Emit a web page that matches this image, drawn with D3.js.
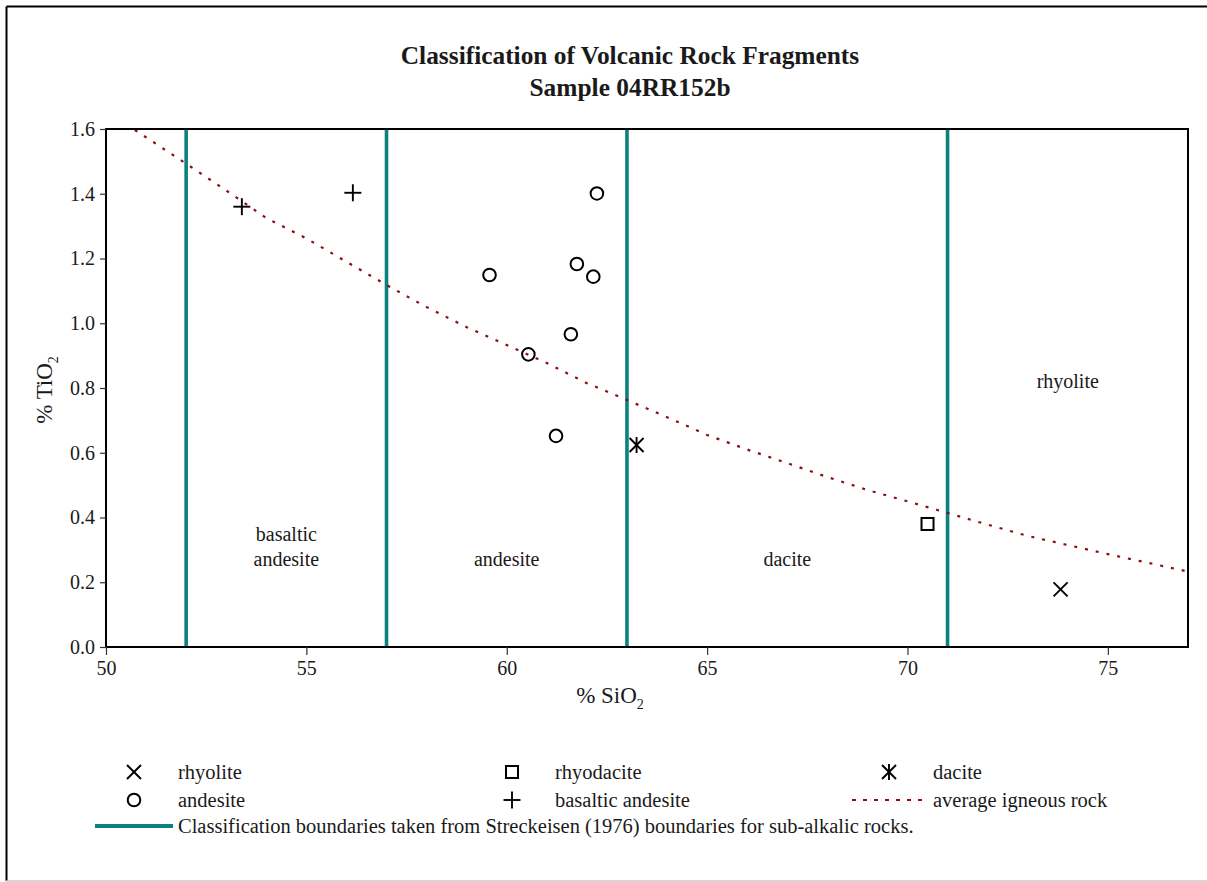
<!DOCTYPE html>
<html>
<head>
<meta charset="utf-8">
<script src="https://cdn.jsdelivr.net/npm/d3@7"></script>
<style>
  body { margin: 0; background: #fff; }
  svg { display: block; }
  svg text { font-family: 'Liberation Serif', 'Times New Roman', serif; }
</style>
</head>
<body>
<svg width="1207" height="882"></svg>
<script>
// sample points, % SiO2 and % TiO2
const rhyoliteSiO2 = [73.82];
const rhyoliteTiO2 = [0.178];
const rhyodaciteSiO2 = [70.50];
const rhyodaciteTiO2 = [0.380];
const daciteSiO2 = [63.24];
const daciteTiO2 = [0.624];
const andesiteSiO2 = [62.25, 59.57, 61.75, 62.16, 61.60, 60.54, 61.23];
const andesiteTiO2 = [1.401, 1.149, 1.183, 1.144, 0.966, 0.904, 0.652];
const basAndesiteSiO2 = [53.39, 56.16];
const basAndesiteTiO2 = [1.360, 1.403];

// average igneous rock curve
const avgSiO2 = [50.72, 52, 53, 54, 55, 56, 57, 58, 59, 60, 61, 62, 63, 64, 65, 66, 67, 68, 69, 70, 71, 72, 73, 74, 75, 76, 77];
const avgTiO2 = [1.597, 1.493, 1.41, 1.325, 1.262, 1.19, 1.118, 1.05, 0.988, 0.933, 0.877, 0.815, 0.763, 0.71, 0.655, 0.61, 0.568, 0.525, 0.485, 0.45, 0.414, 0.378, 0.343, 0.315, 0.287, 0.26, 0.233];

// Streckeisen boundaries and field names
const boundaries = [52, 57, 63, 71];
const fieldNames = [['basaltic', 'andesite'], ['andesite'], ['dacite'], ['rhyolite']];
const fieldLabelTiO2 = [0.25, 0.25, 0.25, 0.80];

const xTicks = [50, 55, 60, 65, 70, 75];
const yTicks = [0, 0.2, 0.4, 0.6, 0.8, 1.0, 1.2, 1.4, 1.6];

const teal = '#0a8282';
const red = '#8b1010';
const ink = '#1a1a1a';

const svg = d3.select('svg');

// outer frame
svg.append('line').attr('x1', 6.5).attr('y1', 6.5).attr('x2', 1207).attr('y2', 6.5)
  .attr('stroke', '#000').attr('stroke-width', 2);
svg.append('line').attr('x1', 6.5).attr('y1', 6.5).attr('x2', 6.5).attr('y2', 881)
  .attr('stroke', '#000').attr('stroke-width', 2);
svg.append('line').attr('x1', 6).attr('y1', 881).attr('x2', 1207).attr('y2', 881)
  .attr('stroke', '#c8c8c8').attr('stroke-width', 1.5);

// title
svg.append('text').attr('x', 630).attr('y', 64).attr('text-anchor', 'middle')
  .attr('font-size', 25.4).attr('font-weight', 'bold').attr('fill', ink)
  .text('Classification of Volcanic Rock Fragments');
svg.append('text').attr('x', 630).attr('y', 96).attr('text-anchor', 'middle')
  .attr('font-size', 25.4).attr('font-weight', 'bold').attr('fill', ink)
  .text('Sample 04RR152b');

const x = d3.scaleLinear().domain([50, 77]).range([106, 1188]);
const y = d3.scaleLinear().domain([0, 1.6]).range([647, 129]);

const plot = svg.append('g');

// boundaries
plot.selectAll('.bound').data(boundaries).enter().append('line')
  .attr('class', 'bound')
  .attr('x1', d => x(d)).attr('x2', d => x(d))
  .attr('y1', y(1.6)).attr('y2', y(0))
  .attr('stroke', teal).attr('stroke-width', 3.6);

// field labels
const fieldMid = boundaries.map((b, i) => ((i < boundaries.length - 1 ? boundaries[i + 1] : 77) + b) / 2);
fieldNames.forEach(function (lines, i) {
  lines.forEach(function (t, j) {
    plot.append('text')
      .attr('x', x(fieldMid[i]))
      .attr('y', y(fieldLabelTiO2[i]) - (lines.length - 1 - j) * 25)
      .attr('text-anchor', 'middle')
      .attr('font-size', 20).attr('fill', ink)
      .text(t);
  });
});

// average igneous rock
const avg = avgSiO2.map((s, i) => [s, avgTiO2[i]]);
plot.append('path').datum(avg)
  .attr('d', d3.line().x(d => x(d[0])).y(d => y(d[1])))
  .attr('fill', 'none').attr('stroke', red).attr('stroke-width', 2.2)
  .attr('stroke-dasharray', '3,8');

// frame of the plot area
plot.append('rect')
  .attr('x', x(50)).attr('y', y(1.6))
  .attr('width', x(77) - x(50)).attr('height', y(0) - y(1.6))
  .attr('fill', 'none').attr('stroke', '#000').attr('stroke-width', 2);

// axes
const xAxis = svg.append('g').attr('transform', 'translate(0,' + y(0) + ')')
  .call(d3.axisBottom(x).tickValues(xTicks).tickSize(8).tickPadding(6).tickFormat(d3.format('d')));
const yAxis = svg.append('g').attr('transform', 'translate(' + x(50) + ',0)')
  .call(d3.axisLeft(y).tickValues(yTicks).tickSize(6).tickPadding(5).tickFormat(d3.format('.1f')));
[xAxis, yAxis].forEach(function (a) {
  a.attr('font-family', null);
  a.select('.domain').remove();
  a.selectAll('line').attr('stroke', '#333').attr('stroke-width', 1.2);
  a.selectAll('text').attr('font-size', 20).attr('fill', ink);
});

// axis titles
const xt = svg.append('text').attr('x', 610).attr('y', 703).attr('text-anchor', 'middle')
  .attr('font-size', 23).attr('fill', ink);
xt.append('tspan').text('% SiO');
xt.append('tspan').attr('font-size', 14).attr('dy', 6).text('2');

const yt = svg.append('text').attr('transform', 'translate(52,390) rotate(-90)')
  .attr('text-anchor', 'middle').attr('font-size', 23).attr('fill', ink);
yt.append('tspan').text('% TiO');
yt.append('tspan').attr('font-size', 14).attr('dy', 6).text('2');

// marker shapes
function drawMarker(g, type) {
  const s = 7;
  function ln(x1, y1, x2, y2) {
    g.append('line').attr('x1', x1).attr('y1', y1).attr('x2', x2).attr('y2', y2)
      .attr('stroke', '#000').attr('stroke-width', 1.9);
  }
  if (type === 'x') { ln(-s, -s, s, s); ln(-s, s, s, -s); }
  if (type === 'plus') { ln(-8.5, 0, 8.5, 0); ln(0, -8.5, 0, 8.5); }
  if (type === 'star') { ln(-s, -s, s, s); ln(-s, s, s, -s); ln(0, -s - 1, 0, s + 1); }
  if (type === 'square') {
    g.append('rect').attr('x', -6).attr('y', -6).attr('width', 12).attr('height', 12)
      .attr('fill', 'none').attr('stroke', '#000').attr('stroke-width', 2);
  }
  if (type === 'circle') {
    g.append('circle').attr('r', 6.3).attr('fill', 'none').attr('stroke', '#000').attr('stroke-width', 2);
  }
}

const series = [
  { type: 'x', xs: rhyoliteSiO2, ys: rhyoliteTiO2 },
  { type: 'square', xs: rhyodaciteSiO2, ys: rhyodaciteTiO2 },
  { type: 'star', xs: daciteSiO2, ys: daciteTiO2 },
  { type: 'circle', xs: andesiteSiO2, ys: andesiteTiO2 },
  { type: 'plus', xs: basAndesiteSiO2, ys: basAndesiteTiO2 }
];
series.forEach(function (s) {
  s.xs.forEach(function (v, i) {
    const g = svg.append('g').attr('transform', 'translate(' + x(v) + ',' + y(s.ys[i]) + ')');
    drawMarker(g, s.type);
  });
});

// legend
const legendItems = [
  { type: 'x', label: 'rhyolite', sx: 134, tx: 178, row: 0 },
  { type: 'square', label: 'rhyodacite', sx: 512, tx: 555, row: 0 },
  { type: 'star', label: 'dacite', sx: 889, tx: 933, row: 0 },
  { type: 'circle', label: 'andesite', sx: 134, tx: 178, row: 1 },
  { type: 'plus', label: 'basaltic andesite', sx: 512, tx: 555, row: 1 },
  { type: 'dash', label: 'average igneous rock', sx: 889, tx: 933, row: 1 }
];
const rowY = [772, 800];
legendItems.forEach(function (d) {
  const cy = rowY[d.row];
  if (d.type === 'dash') {
    svg.append('line').attr('x1', 852).attr('x2', 925).attr('y1', cy).attr('y2', cy)
      .attr('stroke', red).attr('stroke-width', 2).attr('stroke-dasharray', '4,7');
  } else {
    const g = svg.append('g').attr('transform', 'translate(' + d.sx + ',' + cy + ')');
    drawMarker(g, d.type);
  }
  svg.append('text').attr('x', d.tx).attr('y', cy + 7).attr('font-size', 20.5).attr('fill', ink).text(d.label);
});
svg.append('line').attr('x1', 95).attr('x2', 173).attr('y1', 826).attr('y2', 826)
  .attr('stroke', teal).attr('stroke-width', 4);
svg.append('text').attr('x', 178).attr('y', 833).attr('font-size', 20.5).attr('fill', ink)
  .text('Classification boundaries taken from Streckeisen (1976) boundaries for sub-alkalic rocks.');
</script>
</body>
</html>
